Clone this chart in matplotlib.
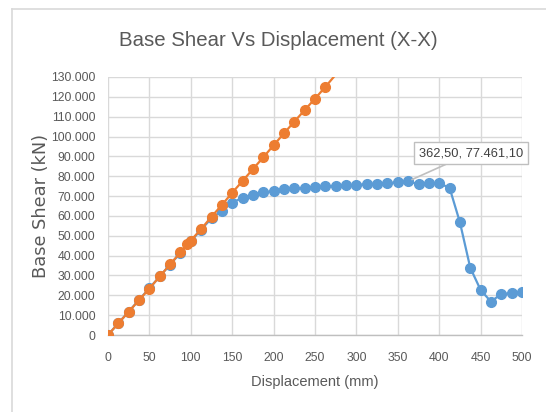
import matplotlib
matplotlib.use("Agg")
import matplotlib.pyplot as plt
from matplotlib.lines import Line2D

# ---- data ----
blue_x = [0, 12.5, 25, 37.5, 50, 62.5, 75, 87.5, 100, 112.5, 125, 137.5, 150, 162.5,
          175, 187.5, 200, 212.5, 225, 237.5, 250, 262.5, 275, 287.5, 300, 312.5,
          325, 337.5, 350, 362.5, 375, 387.5, 400, 412.5, 425, 437.5, 450, 462.5,
          475, 487.5, 500]
blue_y = [0, 6.0, 11.8, 17.7, 23.6, 29.5, 35.5, 41.4, 47.2, 53.1, 58.8, 62.6, 66.7,
          69.2, 70.5, 71.9, 72.5, 73.4, 73.9, 74.2, 74.5, 74.9, 75.2, 75.4, 75.7,
          75.9, 76.3, 76.5, 76.9, 77.461, 76.0, 76.4, 76.4, 74.2, 56.8, 33.9, 22.7,
          16.8, 20.7, 21.0, 21.8]
orange_x = [0, 12.5, 25, 37.5, 50, 62.5, 75, 87.5, 96, 100, 112.5, 125, 137.5, 150,
            162.5, 175, 187.5, 200, 212.5, 225, 237.5, 250, 262.5, 275]
orange_y = [0, 5.9, 11.7, 17.6, 23.4, 29.5, 35.6, 41.6, 46.0, 47.6, 53.4, 59.6, 65.5,
            71.7, 77.6, 83.6, 89.5, 95.6, 101.6, 107.5, 113.3, 119.1, 125.0, 131.2]
x_ticks = [0, 50, 100, 150, 200, 250, 300, 350, 400, 450, 500]
y_ticks = [0, 10, 20, 30, 40, 50, 60, 70, 80, 90, 100, 110, 120, 130]
y_tick_labels = ["0"] + [f"{v:.3f}" for v in y_ticks[1:]]
title = "Base Shear Vs Displacement (X-X)"
x_label = "Displacement (mm)"
y_label = "Base Shear (kN)"
callout_text = "362,50, 77.461,10"
callout_point = (362.5, 77.461)

BLUE = "#5B9BD5"
ORANGE = "#ED7D31"
GRAY = "#595959"

plt.rcParams['font.family'] = ['Liberation Sans', 'DejaVu Sans']

fig = plt.figure(figsize=(5.46, 4.12), dpi=100)
fig.patch.set_facecolor("white")
ax = fig.add_axes([108/546, 1-335/412, (522-108)/546, (335-77)/412])

ax.plot(blue_x, blue_y, color=BLUE, lw=1.6, marker='o', ms=7.0, zorder=3)
ax.plot(orange_x, orange_y, color=ORANGE, lw=1.6, marker='o', ms=7.0, zorder=4,
        markevery=list(range(len(orange_x) - 1)))

ax.set_xlim(0, 500)
ax.set_ylim(0, 130)
ax.set_xticks(x_ticks)
ax.set_yticks(y_ticks)
ax.set_yticklabels(y_tick_labels)
ax.tick_params(axis='both', length=0, colors=GRAY, labelsize=8.8)
ax.tick_params(axis='y', pad=9)
ax.tick_params(axis='x', pad=12)
ax.grid(True, color="#d9d9d9", lw=1.0)
ax.set_axisbelow(True)
for s in ['top', 'right', 'left']:
    ax.spines[s].set_visible(False)
ax.spines['bottom'].set_color("#bfbfbf")
ax.spines['bottom'].set_linewidth(1.0)

ax.set_xlabel(x_label, fontsize=10.5, color=GRAY, labelpad=8)
ax.set_ylabel(y_label, fontsize=12.8, color=GRAY, labelpad=1, family='DejaVu Sans')

fig.text(0.51, 1-40/412, title, ha='center', va='center', fontsize=14.7, color=GRAY)

ax.annotate(callout_text, xy=callout_point, xytext=(438.5, 91.7),
            ha='center', va='center', fontsize=9.3, color="#404040",
            bbox=dict(boxstyle='square,pad=0.35', fc='white', ec='#bfbfbf', lw=1.0),
            arrowprops=dict(arrowstyle='-', color='#bfbfbf', lw=1.2,
                            shrinkA=0, shrinkB=3),
            zorder=6)

# chart frame
fig.add_artist(Line2D([12/546, 1], [1-9/412, 1-9/412], color="#d9d9d9", lw=1.2,
                      transform=fig.transFigure))
fig.add_artist(Line2D([12/546, 12/546], [0, 1-9/412], color="#d9d9d9", lw=1.2,
                      transform=fig.transFigure))

fig.savefig("out.png", dpi=100)
